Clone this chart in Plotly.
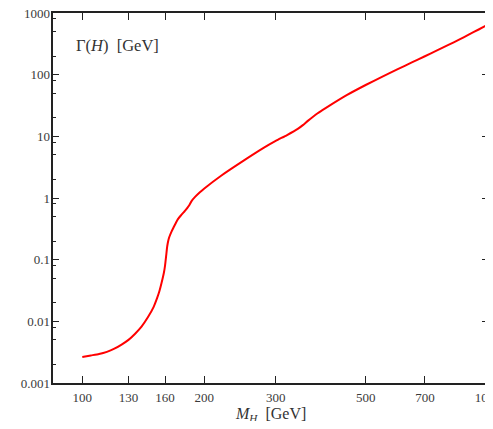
import plotly.graph_objects as go

# Higgs mass (GeV) and total width (GeV)
mass = [100, 105, 110, 115, 120, 125, 130, 135, 140, 145, 150, 153, 155, 157, 159,
        160, 161, 162, 163, 164, 166, 168, 170, 172, 175, 178, 180, 183, 186, 190,
        195, 200, 220, 250, 280, 300, 320, 340, 350, 360, 380, 400, 450, 500, 550,
        600, 650, 700, 750, 800, 850, 900, 950, 1000]
width = [0.00265, 0.0028, 0.00295, 0.0032, 0.0036, 0.0042, 0.0050, 0.0063, 0.0082, 0.0115,
         0.0172, 0.024, 0.031, 0.043, 0.062, 0.080, 0.115, 0.165, 0.205, 0.235, 0.285,
         0.335, 0.39, 0.45, 0.52, 0.59, 0.64, 0.74, 0.89, 1.05, 1.24, 1.43, 2.3, 4.04,
         6.5, 8.43, 10.5, 13.2, 15.2, 17.8, 23.5, 29.2, 46.9, 68.0, 93.1, 123, 158, 199,
         247, 304, 370, 449, 540, 647]

x_ticks = [100, 130, 160, 200, 300, 500, 700, 1000]
x_ticktext = ["100", "130", "160", "200", "300", "500", "700", "1000"]
y_ticks = [0.001, 0.01, 0.1, 1, 10, 100, 1000]
y_ticktext = ["0.001", "0.01", "0.1", "1", "10", "100", "1000"]
y_minor = [m * 10.0 ** e for e in range(-3, 3) for m in (2, 5, 8)]

font_family = "Liberation Serif, DejaVu Serif, serif"

# page body has an 8px margin, so the figure is offset by 8px
W, H = 485, 413
L, R, T, B = 45.3, 479.7, 5, 375   # plot area in figure pixels


def px(x):
    return x / W


def py(y):
    return 1 - y / H


fig = go.Figure()
fig.add_trace(go.Scatter(x=mass, y=width, mode="lines",
                         line=dict(color="#ff0000", width=2, shape="spline", smoothing=0.6),
                         showlegend=False, hoverinfo="skip"))

fig.update_layout(
    width=W, height=H,
    margin=dict(l=0, r=0, t=0, b=0),
    paper_bgcolor="white", plot_bgcolor="white",
    font=dict(family=font_family, size=13, color="#3a3a3a"),
    xaxis=dict(type="log", range=[1.9285, 3.0], tickvals=x_ticks, ticktext=x_ticktext,
               domain=[px(L), px(R)],
               ticks="inside", ticklen=7, tickwidth=1.3, tickcolor="#222222",
               showline=True, linecolor="#222222", linewidth=1.5, mirror="ticks",
               showgrid=False, zeroline=False, ticklabelstandoff=2,
               ticklabeloverflow="allow", automargin=False),
    yaxis=dict(type="log", range=[-3, 3], tickvals=y_ticks, ticktext=y_ticktext,
               domain=[py(B), py(T)],
               ticks="inside", ticklen=6, tickwidth=1.3, tickcolor="#222222",
               showline=True, linecolor="#222222", linewidth=1.5, mirror="ticks",
               showgrid=False, zeroline=False, ticklabeloverflow="allow", automargin=False,
               ticklabelstandoff=-1,
               minor=dict(tickvals=y_minor, ticks="inside", ticklen=3,
                          tickwidth=1.2, tickcolor="#222222", showgrid=False)),
    annotations=[
        dict(text="Γ(<i>H</i>)  [GeV]", xref="paper", yref="paper",
             x=px(66), y=py(37), xanchor="left", yanchor="middle", showarrow=False,
             font=dict(family=font_family, size=16.5, color="#333333")),
        dict(text="<i>M</i><sub><i>H</i></sub>  [GeV]", xref="paper", yref="paper",
             x=px(262), y=py(406.5), xanchor="center", yanchor="middle", showarrow=False,
             font=dict(family=font_family, size=16, color="#333333")),
    ],
)

fig.write_html("out.html")
